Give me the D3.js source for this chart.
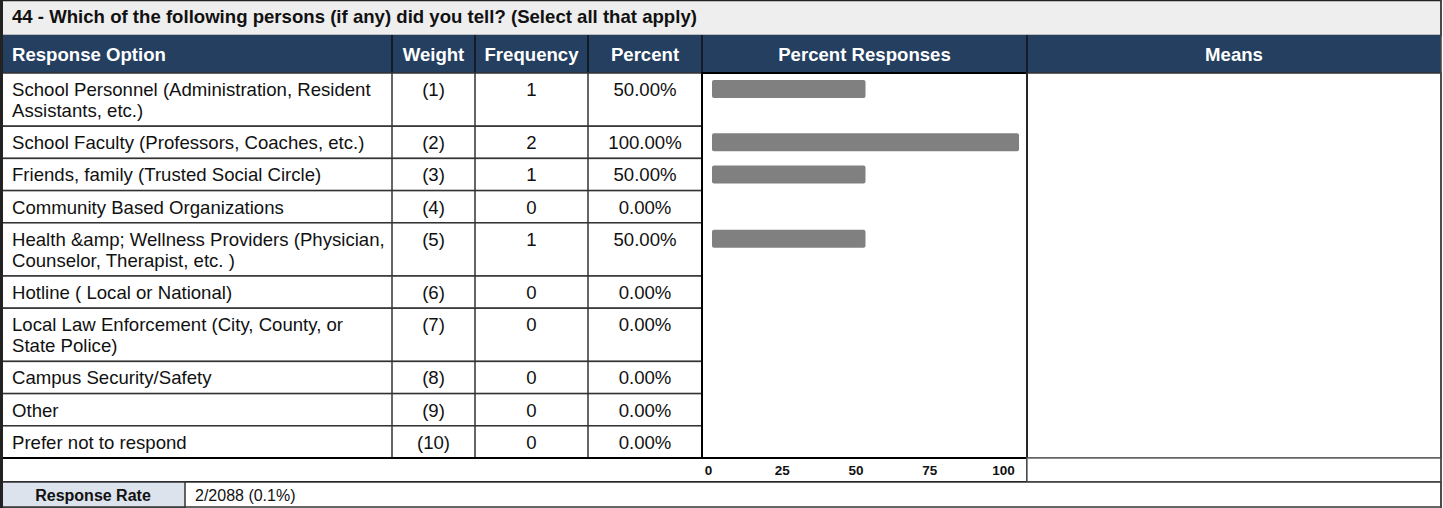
<!DOCTYPE html>
<html>
<head>
<meta charset="utf-8">
<script src="https://cdn.jsdelivr.net/npm/d3@7"></script>
<style>
    body { margin: 0; background: #fff; }
    text { font-family: "Liberation Sans", Arial, sans-serif; }
</style>
</head>
<body>
<div id="chart"></div>
<script>

var svgWidth = 1443;
var svgHeight = 508;

var title = "44 - Which of the following persons (if any) did you tell? (Select all that apply)";
var headers = ["Response Option", "Weight", "Frequency", "Percent", "Percent Responses", "Means"];
var options = [
    "School Personnel (Administration, Resident Assistants, etc.)",
    "School Faculty (Professors, Coaches, etc.)",
    "Friends, family (Trusted Social Circle)",
    "Community Based Organizations",
    "Health &amp; Wellness Providers (Physician, Counselor, Therapist, etc. )",
    "Hotline ( Local or National)",
    "Local Law Enforcement (City, County, or State Police)",
    "Campus Security/Safety",
    "Other",
    "Prefer not to respond"
];
var weights = ["(1)", "(2)", "(3)", "(4)", "(5)", "(6)", "(7)", "(8)", "(9)", "(10)"];
var frequency = [1, 2, 1, 0, 1, 0, 0, 0, 0, 0];
var percent = [50, 100, 50, 0, 50, 0, 0, 0, 0, 0];
var axisTicks = [0, 25, 50, 75, 100];
var responseRate = "2/2088 (0.1%)";

// column edges
var cols = [0, 392, 475, 588, 702, 1027, 1441];
var headTop = 35, headBottom = 73;
var bodyBottom = 458, axisBottom = 482;
var lineH = 21;
var fs = "18.6px";

var svg = d3.select("#chart")
    .append("svg")
    .attr("width", svgWidth)
    .attr("height", svgHeight);

// title bar
svg.append("rect")
    .attr("x", 1).attr("y", 0.5)
    .attr("width", cols[6] - 1).attr("height", headTop)
    .attr("fill", "#eeeeee").attr("stroke", "#222").attr("stroke-width", 1.5);
svg.append("text")
    .attr("x", 12).attr("y", 23)
    .attr("font-size", fs).attr("font-weight", "bold").attr("fill", "#111")
    .text(title);

// header row
svg.append("rect")
    .attr("x", 1).attr("y", headTop)
    .attr("width", cols[6] - 1).attr("height", headBottom - headTop)
    .attr("fill", "#243f60");
headers.forEach((h, i) => {
    var left = i === 0;
    svg.append("text")
        .attr("x", left ? 12 : (cols[i] + cols[i + 1]) / 2)
        .attr("y", 61)
        .attr("text-anchor", left ? "start" : "middle")
        .attr("font-size", fs).attr("font-weight", "bold").attr("fill", "#fff")
        .text(h);
    if (i > 0) {
        svg.append("line")
            .attr("x1", cols[i]).attr("x2", cols[i])
            .attr("y1", headTop).attr("y2", headBottom)
            .attr("stroke", "#111").attr("stroke-width", 1.5);
    }
});

// wrap option labels
var measure = svg.append("text").attr("font-size", fs);
function wrap(str, maxW) {
    var words = str.split(" ");
    var lines = [];
    var cur = "";
    words.forEach(w => {
        var test = cur ? cur + " " + w : w;
        measure.text(test);
        if (measure.node().getComputedTextLength() > maxW && cur) {
            lines.push(cur);
            cur = w;
        } else {
            cur = test;
        }
    });
    lines.push(cur);
    return lines;
}
var rows = [];
var y = headBottom;
var totalLines = 0;
options.forEach(o => { totalLines += wrap(o, 378).length; });
var pad = (bodyBottom - headBottom - totalLines * lineH) / options.length;
options.forEach((o, i) => {
    var lines = wrap(o, 378);
    var h = pad + lines.length * lineH;
    rows.push({ label: lines, top: y, h: h, weight: weights[i], freq: frequency[i], pct: percent[i] });
    y += h;
});
measure.remove();

var x = d3.scaleLinear().domain([0, 100]).range([712, 1019]);

var rowG = svg.selectAll(".row")
    .data(rows)
    .enter()
    .append("g")
    .attr("class", "row")
    .attr("transform", d => `translate(0, ${d.top})`);

rowG.append("rect")
    .attr("x", 1).attr("y", 0)
    .attr("width", cols[4] - 1).attr("height", d => d.h)
    .attr("fill", "#fff").attr("stroke", "#333").attr("stroke-width", 1.5);

rowG.each(function (d) {
    var g = d3.select(this);
    d.label.forEach((l, k) => {
        g.append("text")
            .attr("x", 12).attr("y", 23 + k * lineH)
            .attr("font-size", fs).attr("fill", "#111")
            .text(l);
    });
    [1, 2, 3].forEach(c => {
        g.append("line")
            .attr("x1", cols[c]).attr("x2", cols[c])
            .attr("y1", 0).attr("y2", d.h)
            .attr("stroke", "#333").attr("stroke-width", 1.5);
    });
    var vals = [d.weight, d.freq, d.pct.toFixed(2) + "%"];
    vals.forEach((v, k) => {
        g.append("text")
            .attr("x", (cols[k + 1] + cols[k + 2]) / 2)
            .attr("y", 23)
            .attr("text-anchor", "middle")
            .attr("font-size", fs).attr("fill", "#111")
            .text(v);
    });
});

// bars
rowG.filter(d => d.pct > 0)
    .append("rect")
    .attr("x", x(0))
    .attr("y", 7)
    .attr("width", d => x(d.pct) - x(0))
    .attr("height", 18)
    .attr("rx", 2)
    .attr("fill", "#808080");

// percent responses and means cells
svg.append("rect")
    .attr("x", cols[4]).attr("y", headBottom)
    .attr("width", cols[5] - cols[4]).attr("height", bodyBottom - headBottom)
    .attr("fill", "none").attr("stroke", "#000").attr("stroke-width", 2);
svg.append("rect")
    .attr("x", cols[5]).attr("y", headBottom)
    .attr("width", cols[6] - cols[5]).attr("height", bodyBottom - headBottom)
    .attr("fill", "none").attr("stroke", "#333").attr("stroke-width", 1.5);

// axis row
svg.append("rect")
    .attr("x", 1).attr("y", bodyBottom)
    .attr("width", cols[5] - 1).attr("height", axisBottom - bodyBottom)
    .attr("fill", "#fff").attr("stroke", "#000").attr("stroke-width", 2);
svg.append("rect")
    .attr("x", cols[5]).attr("y", bodyBottom)
    .attr("width", cols[6] - cols[5]).attr("height", axisBottom - bodyBottom)
    .attr("fill", "#fff").attr("stroke", "#666").attr("stroke-width", 1.5);

var tickScale = d3.scaleLinear().domain([0, 100]).range([708, 1003]);
var axis = svg.append("g")
    .attr("transform", `translate(0, ${bodyBottom + 4})`)
    .call(d3.axisBottom(tickScale).tickValues(axisTicks).tickSize(0));
axis.select(".domain").remove();
axis.selectAll("text")
    .attr("font-family", "Liberation Sans, Arial, sans-serif")
    .attr("font-size", "13.5px").attr("font-weight", "bold").attr("fill", "#111");

// response rate row
svg.append("rect")
    .attr("x", 1).attr("y", axisBottom)
    .attr("width", cols[6] - 1).attr("height", svgHeight - 1 - axisBottom)
    .attr("fill", "#fff").attr("stroke", "#333").attr("stroke-width", 1.5);
svg.append("rect")
    .attr("x", 1).attr("y", axisBottom)
    .attr("width", 184).attr("height", svgHeight - 1 - axisBottom)
    .attr("fill", "#dce3ec").attr("stroke", "#333").attr("stroke-width", 1.5);
svg.append("text")
    .attr("x", 93).attr("y", 501)
    .attr("text-anchor", "middle")
    .attr("font-size", "16px").attr("font-weight", "bold").attr("fill", "#111")
    .text("Response Rate");
svg.append("text")
    .attr("x", 195).attr("y", 501)
    .attr("font-size", "16px").attr("fill", "#111")
    .text(responseRate);

// outer left/right frame
svg.append("line").attr("x1", 1.5).attr("x2", 1.5).attr("y1", 0).attr("y2", svgHeight)
    .attr("stroke", "#222").attr("stroke-width", 3);
svg.append("line").attr("x1", cols[6]).attr("x2", cols[6]).attr("y1", 0).attr("y2", svgHeight)
    .attr("stroke", "#444").attr("stroke-width", 1.5);
</script>
</body>
</html>
